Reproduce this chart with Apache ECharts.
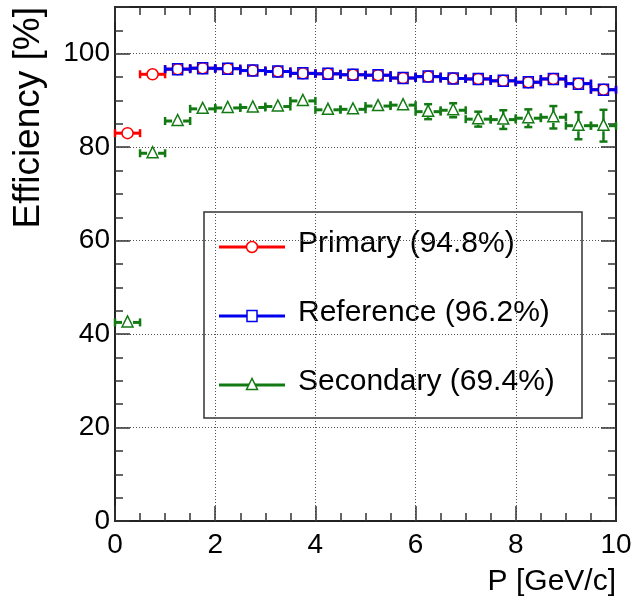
<!DOCTYPE html>
<html>
<head>
<meta charset="utf-8">
<script src="https://cdn.jsdelivr.net/npm/echarts@6/dist/echarts.min.js"></script>
<style>
  html, body { margin: 0; padding: 0; background: #fff; }
  #chart { width: 634px; height: 608px; }
</style>
</head>
<body>
<div id="chart"></div>
<script>
// Momentum bins (GeV/c): bin centres and half-width
const pCenters = [0.25, 0.75, 1.25, 1.75, 2.25, 2.75, 3.25, 3.75, 4.25, 4.75,
                  5.25, 5.75, 6.25, 6.75, 7.25, 7.75, 8.25, 8.75, 9.25, 9.75];
const binHalfWidth = 0.25;

// Tracking efficiency [%] per momentum bin
const primaryEff = [83.0, 95.6, 96.7, 96.9, 96.8, 96.4, 96.2, 95.8, 95.7, 95.5,
                    95.4, 94.8, 95.1, 94.7, 94.6, 94.2, 93.9, 94.6, 93.6, 92.3];
const primaryErr = [0.6, 0.3, 0.2, 0.2, 0.2, 0.2, 0.2, 0.2, 0.2, 0.2,
                    0.2, 0.3, 0.3, 0.3, 0.3, 0.3, 0.3, 0.3, 0.4, 0.4];

const referenceP = [1.25, 1.75, 2.25, 2.75, 3.25, 3.75, 4.25, 4.75, 5.25,
                    5.75, 6.25, 6.75, 7.25, 7.75, 8.25, 8.75, 9.25, 9.75];
const referenceEff = [96.7, 96.9, 96.8, 96.4, 96.2, 95.8, 95.7, 95.5, 95.4,
                      94.8, 95.1, 94.7, 94.6, 94.2, 93.9, 94.6, 93.6, 92.3];
const referenceErr = [0.2, 0.2, 0.2, 0.2, 0.2, 0.2, 0.2, 0.2, 0.2,
                      0.3, 0.3, 0.3, 0.3, 0.3, 0.3, 0.3, 0.4, 0.4];

const secondaryEff = [42.5, 78.7, 85.6, 88.2, 88.4, 88.5, 88.7, 89.9, 88.0, 88.1,
                      88.8, 89.0, 87.6, 87.9, 86.0, 85.9, 86.2, 86.4, 84.6, 84.6];
const secondaryErr = [0.9, 0.7, 0.6, 0.5, 0.5, 0.5, 0.6, 0.6, 0.7, 0.8,
                      0.9, 1.0, 1.6, 1.5, 1.6, 2.0, 1.9, 2.4, 2.9, 3.4];

// Tick labels
const xTickLabels = [0, 2, 4, 6, 8, 10];
const yTickLabels = [0, 20, 40, 60, 80, 100];

const legendLabels = ['Primary (94.8%)', 'Reference (96.2%)', 'Secondary (69.4%)'];

const COLORS = { primary: '#ff0000', reference: '#0000ee', secondary: '#137a13' };
const FONT = '"Liberation Sans", Arial, Helvetica, sans-serif';
const MARK_R = 5.5;
const CAP = 4;

// Marker outlines drawn as zrender shapes
function markerShape(kind, cx, cy, color, fill) {
  const style = { stroke: color, lineWidth: 1.5, fill: fill };
  if (kind === 'circle') {
    return { type: 'circle', shape: { cx: cx, cy: cy, r: MARK_R }, style: style };
  }
  if (kind === 'square') {
    return { type: 'rect', shape: { x: cx - 5, y: cy - 5.5, width: 10, height: 11 }, style: style };
  }
  return {
    type: 'polygon',
    shape: { points: [[cx, cy - 6.5], [cx - 5.5, cy + 4.5], [cx + 5.5, cy + 4.5]] },
    style: style
  };
}

// Histogram-style points: bin-width bar with end caps, vertical error bar, open marker
function makeRender(color, kind, fill) {
  return function (params, api) {
    const x = api.value(0), y = api.value(1), e = api.value(2);
    const c = api.coord([x, y]);
    const xl = api.coord([x - binHalfWidth, y])[0];
    const xr = api.coord([x + binHalfWidth, y])[0];
    const yt = api.coord([x, y + e])[1];
    const yb = api.coord([x, y - e])[1];
    const children = [];
    const seg = function (x1, y1, x2, y2, w) {
      children.push({ type: 'line', shape: { x1: x1, y1: y1, x2: x2, y2: y2 },
                      style: { stroke: color, lineWidth: w } });
    };
    seg(xl, c[1], c[0] - MARK_R, c[1], 3);
    seg(c[0] + MARK_R, c[1], xr, c[1], 3);
    seg(xl, c[1] - CAP, xl, c[1] + CAP, 2.5);
    seg(xr, c[1] - CAP, xr, c[1] + CAP, 2.5);
    if (c[1] - yt > MARK_R + 1) {
      seg(c[0], c[1] - MARK_R, c[0], yt, 2.5);
      seg(c[0] - CAP, yt, c[0] + CAP, yt, 2.5);
    }
    if (yb - c[1] > MARK_R + 1) {
      seg(c[0], c[1] + MARK_R, c[0], yb, 2.5);
      seg(c[0] - CAP, yb, c[0] + CAP, yb, 2.5);
    }
    children.push(markerShape(kind, c[0], c[1], color, fill));
    return { type: 'group', children: children };
  };
}

// One tick-only axis; labels and grid lines are switched on where needed
function tickAxis(gridIndex, pos, interval, len, range, extra) {
  return Object.assign({
    type: 'value', gridIndex: gridIndex, position: pos, interval: interval,
    min: range.min, max: range.max,
    axisLine: { show: false, onZero: false },
    axisTick: { show: true, inside: true, length: len, lineStyle: { color: '#333', width: 1.5 } },
    axisLabel: { show: false },
    splitLine: { show: false }
  }, extra || {});
}

const gridDots = { show: true, showMinLine: false, showMaxLine: false,
                   lineStyle: { color: '#555', width: 1, type: [1, 2] } };
const labelStyle = { fontFamily: FONT, fontSize: 28, color: '#000' };

const xRange = { min: 0, max: 10 };
const yRange = { min: 0, max: 110 };

// grid 0 carries the major ticks, labels and grid lines; grid 1 (same box) the minor ticks
const xAxes = [
  tickAxis(0, 'bottom', 2, 15, xRange, {
    axisLabel: Object.assign({ show: true, margin: 10,
      formatter: function (v) { return xTickLabels.indexOf(v) >= 0 ? String(v) : ''; } }, labelStyle),
    splitLine: gridDots
  }),
  tickAxis(0, 'top', 2, 15, xRange),
  tickAxis(1, 'bottom', 0.5, 8, xRange),
  tickAxis(1, 'top', 0.5, 8, xRange)
];
const yAxes = [
  tickAxis(0, 'left', 20, 15, yRange, {
    axisLabel: Object.assign({ show: true, margin: 5,
      formatter: function (v) { return yTickLabels.indexOf(v) >= 0 ? String(v) : ''; } }, labelStyle),
    splitLine: gridDots
  }),
  tickAxis(0, 'right', 20, 15, yRange),
  tickAxis(1, 'left', 5, 8, yRange),
  tickAxis(1, 'right', 5, 8, yRange)
];

// Legend box drawn as graphics
const legendRows = [
  { color: COLORS.primary, kind: 'circle', y: 247 },
  { color: COLORS.reference, kind: 'square', y: 316 },
  { color: COLORS.secondary, kind: 'triangle', y: 385 }
];
const legendChildren = [{
  type: 'rect', shape: { x: 204, y: 212, width: 378, height: 206 },
  style: { fill: '#fff', stroke: '#333', lineWidth: 1.5 }
}];
legendRows.forEach(function (row, i) {
  legendChildren.push({ type: 'line', shape: { x1: 219, y1: row.y, x2: 285, y2: row.y },
                        style: { stroke: row.color, lineWidth: 3 } });
  legendChildren.push(markerShape(row.kind, 252, row.y, row.color, '#fff'));
  legendChildren.push({ type: 'text', x: 298, y: row.y - 3,
    style: { text: legendLabels[i], fontFamily: FONT, fontSize: 30, fill: '#000',
             align: 'left', verticalAlign: 'middle' } });
});

const gridBox = { left: 115, top: 7, right: 18, bottom: 87, containLabel: false, outerBoundsMode: 'none' };

const chart = echarts.init(document.getElementById('chart'), null, { renderer: 'canvas' });
chart.setOption({
  animation: false,
  backgroundColor: '#fff',
  grid: [
    Object.assign({ show: true, borderColor: '#222', borderWidth: 2, backgroundColor: 'transparent' }, gridBox),
    Object.assign({ show: false }, gridBox)
  ],
  xAxis: xAxes,
  yAxis: yAxes,
  series: [
    {
      name: 'Primary', type: 'custom', xAxisIndex: 0, yAxisIndex: 0,
      renderItem: makeRender(COLORS.primary, 'circle', '#fff'),
      encode: { x: 0, y: 1 },
      data: pCenters.map(function (p, i) { return [p, primaryEff[i], primaryErr[i]]; }),
      z: 3
    },
    {
      name: 'Reference', type: 'custom', xAxisIndex: 0, yAxisIndex: 0,
      renderItem: makeRender(COLORS.reference, 'square', 'none'),
      encode: { x: 0, y: 1 },
      data: referenceP.map(function (p, i) { return [p, referenceEff[i], referenceErr[i]]; }),
      z: 4
    },
    {
      name: 'Secondary', type: 'custom', xAxisIndex: 0, yAxisIndex: 0,
      renderItem: makeRender(COLORS.secondary, 'triangle', '#fff'),
      encode: { x: 0, y: 1 },
      data: pCenters.map(function (p, i) { return [p, secondaryEff[i], secondaryErr[i]]; }),
      z: 5
    }
  ],
  graphic: { elements: [
    { type: 'group', z: 100, children: legendChildren },
    { type: 'text', x: 616, y: 582, z: 100,
      style: { text: 'P [GeV/c]', fontFamily: FONT, fontSize: 30, fill: '#000',
               align: 'right', verticalAlign: 'middle' } },
    { type: 'text', x: 29, y: 7, rotation: Math.PI / 2, z: 100,
      style: { text: 'Efficiency [%]', fontFamily: FONT, fontSize: 37, fill: '#000',
               align: 'right', verticalAlign: 'middle' } }
  ] }
});
</script>
</body>
</html>
